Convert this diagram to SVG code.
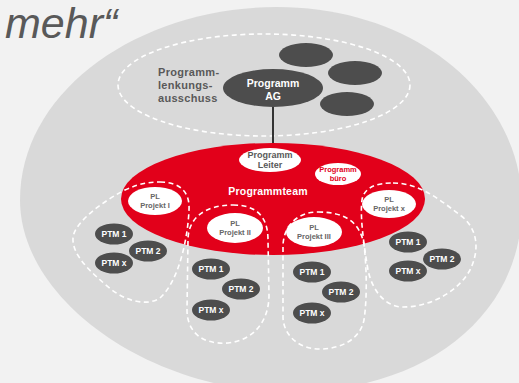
<svg xmlns="http://www.w3.org/2000/svg" width="519" height="383" viewBox="0 0 519 383">
<style>
  text { font-family: "Liberation Sans", Arial, sans-serif; font-weight: bold; text-anchor: middle; }
  .dark { fill: #4d4d4d; }
  .white { fill: #ffffff; }
  .dash { fill: none; stroke: #ffffff; stroke-width: 1.6; stroke-dasharray: 5 3.5; }
  .ptm { fill: #ffffff; font-size: 8.5px; }
  .pl { fill: #666666; font-size: 7.5px; }
</style>
<rect x="0" y="0" width="519" height="383" fill="#f2f2f2"/>
<text x="5" y="38" style="font-size:43px;font-weight:normal;font-style:italic;text-anchor:start;fill:#595959">mehr“</text>

<g id="umfeld">
  <path d="M 277 7 C 420 7 522 100 522 205 C 522 320 420 392 290 392 C 150 392 20 300 20 200 C 20 90 140 7 277 7 Z" fill="#d9d9d9"/>
</g>

<g id="lenkungsausschuss">
  <ellipse cx="264" cy="85" rx="146" ry="51" class="dash"/>
  <text x="158" y="76" style="font-size:11px;fill:#595959;text-anchor:start;letter-spacing:0.3px">Programm-</text>
  <text x="158" y="89" style="font-size:11px;fill:#595959;text-anchor:start;letter-spacing:0.3px">lenkungs-</text>
  <text x="158" y="102" style="font-size:11px;fill:#595959;text-anchor:start;letter-spacing:0.3px">ausschuss</text>
  <ellipse cx="306" cy="55" rx="27" ry="12" class="dark"/>
  <ellipse cx="355" cy="73" rx="27" ry="12" class="dark"/>
  <ellipse cx="347" cy="104" rx="27" ry="12" class="dark"/>
</g>

<g id="connectors">
  <line x1="273" y1="106" x2="273" y2="145" stroke="#333333" stroke-width="2"/>
</g>

<g id="programm-ag">
  <ellipse cx="273" cy="88" rx="50" ry="19" class="dark"/>
  <text x="273" y="87" style="font-size:10.5px;fill:#ffffff">Programm</text>
  <text x="273" y="100" style="font-size:10.5px;fill:#ffffff">AG</text>
</g>

<g id="programmteam">
  <ellipse cx="273" cy="199" rx="152" ry="56" fill="#e2001a"/>
  <text x="268" y="195" style="font-size:10.5px;fill:#ffffff;letter-spacing:0.2px">Programmteam</text>
</g>

<g id="programm-leiter">
  <ellipse cx="270" cy="160" rx="31" ry="12" class="white"/>
  <text x="270" y="158" style="font-size:9px;fill:#595959">Programm</text>
  <text x="270" y="168" style="font-size:9px;fill:#595959">Leiter</text>
</g>

<g id="programm-buero">
  <ellipse cx="338" cy="174" rx="23" ry="11" class="white"/>
  <text x="338" y="172" style="font-size:7.5px;fill:#e2001a">Programm</text>
  <text x="338" y="181" style="font-size:7.5px;fill:#e2001a">büro</text>
</g>

<g id="projekt-1">
  <path class="dash" d="M 160 182 C 180 182 190 192 189 210 C 188 235 180 280 160 298 C 148 306 128 302 112 290 C 90 272 72 255 73 238 C 74 222 105 200 125 190 C 140 183 150 182 160 182 Z"/>
  <ellipse cx="155" cy="201" rx="27" ry="14" class="white"/>
  <text x="155" y="199" class="pl">PL</text>
  <text x="155" y="208" class="pl">Projekt I</text>
  <ellipse cx="114" cy="234" rx="19" ry="10.5" class="dark"/>
  <text x="114" y="237" class="ptm">PTM 1</text>
  <ellipse cx="148" cy="251" rx="19" ry="10.5" class="dark"/>
  <text x="148" y="254" class="ptm">PTM 2</text>
  <ellipse cx="114" cy="263" rx="19" ry="10.5" class="dark"/>
  <text x="114" y="266" class="ptm">PTM x</text>
</g>

<g id="projekt-2">
  <path class="dash" d="M 233 205 C 255 205 268 215 268 240 L 269 295 C 269 320 255 340 228 343 C 200 345 187 330 187 310 L 188 240 C 188 218 205 205 233 205 Z"/>
  <ellipse cx="235" cy="228" rx="28" ry="15" class="white"/>
  <text x="235" y="226" class="pl">PL</text>
  <text x="235" y="235" class="pl">Projekt II</text>
  <ellipse cx="211" cy="269" rx="19" ry="10.5" class="dark"/>
  <text x="211" y="272" class="ptm">PTM 1</text>
  <ellipse cx="241" cy="289" rx="19" ry="10.5" class="dark"/>
  <text x="241" y="292" class="ptm">PTM 2</text>
  <ellipse cx="211" cy="310" rx="19" ry="10.5" class="dark"/>
  <text x="211" y="313" class="ptm">PTM x</text>
</g>

<g id="projekt-3">
  <path class="dash" d="M 318 212 C 345 212 360 222 364 245 C 367 270 367 300 364 320 C 360 340 340 349 320 349 C 298 349 284 335 283 318 L 283 245 C 284 225 298 212 318 212 Z"/>
  <ellipse cx="314" cy="232" rx="28" ry="15" class="white"/>
  <text x="314" y="230" class="pl">PL</text>
  <text x="314" y="239" class="pl">Projekt III</text>
  <ellipse cx="312" cy="272" rx="19" ry="10.5" class="dark"/>
  <text x="312" y="275" class="ptm">PTM 1</text>
  <ellipse cx="341" cy="292" rx="19" ry="10.5" class="dark"/>
  <text x="341" y="295" class="ptm">PTM 2</text>
  <ellipse cx="312" cy="313" rx="19" ry="10.5" class="dark"/>
  <text x="312" y="316" class="ptm">PTM x</text>
</g>

<g id="projekt-x">
  <path class="dash" d="M 393 183 C 420 183 440 200 460 215 C 478 228 480 250 470 270 C 458 292 430 307 403 307 C 385 307 372 290 368 270 C 363 240 360 215 362 200 C 364 188 375 183 393 183 Z"/>
  <ellipse cx="389" cy="204" rx="27" ry="14" class="white"/>
  <text x="389" y="202" class="pl">PL</text>
  <text x="389" y="211" class="pl">Projekt x</text>
  <ellipse cx="408" cy="242" rx="19" ry="10.5" class="dark"/>
  <text x="408" y="245" class="ptm">PTM 1</text>
  <ellipse cx="442" cy="259" rx="19" ry="10.5" class="dark"/>
  <text x="442" y="262" class="ptm">PTM 2</text>
  <ellipse cx="408" cy="271" rx="19" ry="10.5" class="dark"/>
  <text x="408" y="274" class="ptm">PTM x</text>
</g>
</svg>
